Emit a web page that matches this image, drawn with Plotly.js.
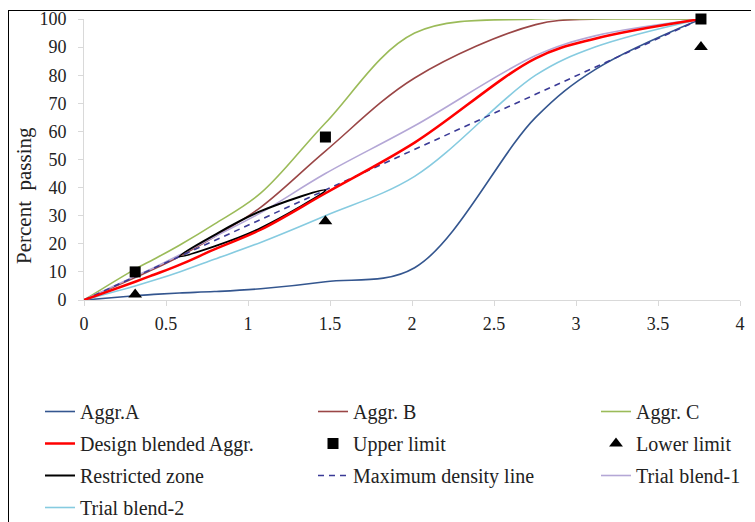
<!DOCTYPE html>
<html>
<head>
<meta charset="utf-8">
<script src="https://cdn.plot.ly/plotly-3.0.1.min.js"></script>
<style>
  html, body { margin: 0; padding: 0; background: #fff; }
  #wrap { position: relative; width: 755px; height: 522px; }
  #chart { position: absolute; left: 0; top: 0; width: 755px; height: 522px; }
  #frame { position: absolute; left: 8px; top: 10px; width: 742px; height: 520px;
           border-top: 1.5px solid #000; border-left: 1.5px solid #000; pointer-events: none; }
</style>
</head>
<body>
<div id="wrap"><div id="chart"></div><div id="frame"></div></div>
<script>
// Sieve sizes raised to 0.45 power (x axis)
const sieveX = [0, 0.312, 0.426, 0.582, 0.795, 1.077, 1.472, 2.016, 2.754, 3.116, 3.762];

const aggrA   = [0, 1.5, 2, 2.5, 3, 4, 6.5, 11.5, 65, 82, 100];
const aggrB   = [0, 8, 11, 15.5, 22.5, 33, 53, 79, 98, 100, 100];
const aggrC   = [0, 11, 14.5, 19.5, 27, 38, 63, 95, 100, 100, 100];
const design  = [0, 6.5, 9, 12.5, 18, 25, 38, 56, 86, 93, 100];
const trial1  = [0, 8.5, 11.5, 16, 22.5, 31, 45, 62, 87, 94, 100];
const trial2  = [0, 5, 7, 10, 14.5, 20.5, 30, 44, 80, 90, 100];

const maxDensX = [0, 0.312, 0.582, 1.077, 1.472, 2.016, 2.754, 3.762];
const maxDensY = [0, 8.3, 15.5, 28.6, 39.1, 53.6, 73.2, 100];

const upperX = [0.312, 1.472, 3.762];
const upperY = [10, 58, 100];
const lowerX = [0.312, 1.472, 3.762];
const lowerY = [2, 28, 90];

const rzX = [0.582, 0.795, 1.077, 1.472, 1.077, 0.795, 0.582];
const rzY = [15.5, 23.1, 31.6, 39.1, 25.6, 19.1, 15.5];

const xTicks = [0, 0.5, 1, 1.5, 2, 2.5, 3, 3.5, 4];
const xTickText = ['0', '0.5', '1', '1.5', '2', '2.5', '3', '3.5', '4'];
const yTicks = [0, 10, 20, 30, 40, 50, 60, 70, 80, 90, 100];

const serif = '"Liberation Serif", "Times New Roman", Times, serif';

const legendOrder = ['Aggr.A', 'Design blended Aggr.', 'Restricted zone', 'Trial blend-2',
                     'Aggr. B', 'Upper limit', 'Maximum density line',
                     'Aggr. C', 'Lower limit', 'Trial blend-1'];

function line(name, x, y, color, width, legend, extra) {
  return Object.assign({
    type: 'scatter', mode: 'lines', name: name, x: x, y: y,
    line: { color: color, width: width, shape: 'spline', smoothing: 1 },
    legend: legend, legendgroup: name, hoverinfo: 'skip'
  }, extra || {});
}

const data = [
  line('Aggr.A', sieveX, aggrA, '#34568f', 1.6, 'legend'),
  line('Aggr. B', sieveX, aggrB, '#9a4646', 1.6, 'legend2'),
  line('Aggr. C', sieveX, aggrC, '#9bbb59', 1.6, 'legend3'),
  line('Trial blend-1', sieveX, trial1, '#b4a7d6', 1.6, 'legend3'),
  line('Trial blend-2', sieveX, trial2, '#86cbe0', 1.6, 'legend'),
  line('Maximum density line', maxDensX, maxDensY, '#3a3a96', 1.6, 'legend2',
       { line: { color: '#3a3a96', width: 1.6, dash: '6px,5px' } }),
  line('Restricted zone', rzX, rzY, '#000000', 2, 'legend'),
  line('Design blended Aggr.', sieveX, design, '#ff0000', 2.5, 'legend'),
  { type: 'scatter', mode: 'markers', name: 'Upper limit', x: upperX, y: upperY,
    marker: { symbol: 'square', size: 11, color: '#000' }, legend: 'legend2',
    legendgroup: 'Upper limit', cliponaxis: false },
  { type: 'scatter', mode: 'markers', name: 'Lower limit', x: lowerX, y: lowerY,
    marker: { symbol: 'triangle-up', size: 12, color: '#000' }, legend: 'legend3',
    legendgroup: 'Lower limit', cliponaxis: false }
];
data.forEach(function (t) { t.legendrank = legendOrder.indexOf(t.name) + 1; });

function legendCol(xPx, yTopPx) {
  return {
    orientation: 'v', xref: 'container', yref: 'container',
    x: xPx / 755, y: 1 - yTopPx / 522, xanchor: 'left', yanchor: 'top',
    bgcolor: 'rgba(0,0,0,0)', borderwidth: 0, tracegroupgap: 3,
    font: { family: serif, size: 20, color: '#222' },
    traceorder: 'grouped', itemclick: false, itemdoubleclick: false
  };
}

const layout = {
  width: 755, height: 522,
  margin: { l: 84, r: 15, t: 19, b: 222, autoexpand: false },
  paper_bgcolor: '#fff', plot_bgcolor: '#fff',
  showlegend: true,
  xaxis: {
    range: [0, 4], tickvals: xTicks, ticktext: xTickText,
    showgrid: false, zeroline: false,
    showline: true, linecolor: '#d9d9d9', linewidth: 1,
    ticks: 'outside', ticklen: 5, tickcolor: '#d9d9d9',
    ticklabelstandoff: 2,
    tickfont: { family: serif, size: 18, color: '#222' }
  },
  yaxis: {
    range: [0, 100], tickvals: yTicks,
    showgrid: false, zeroline: false,
    showline: true, linecolor: '#d9d9d9', linewidth: 1,
    ticks: 'outside', ticklen: 5, tickcolor: '#d9d9d9',
    ticklabelstandoff: 8,
    tickfont: { family: serif, size: 18, color: '#222' }
  },
  legend: legendCol(40, 392),
  legend2: legendCol(313, 392),
  legend3: legendCol(596, 392),
  annotations: [{
    text: 'Percent&nbsp; passing', xref: 'paper', yref: 'paper',
    x: (24 - 84) / 656, y: (300 - 196) / 281, xanchor: 'center', yanchor: 'middle',
    textangle: -90, showarrow: false,
    font: { family: serif, size: 21, color: '#222' }
  }]
};

Plotly.newPlot('chart', data, layout, { staticPlot: true, displayModeBar: false });
</script>
</body>
</html>
